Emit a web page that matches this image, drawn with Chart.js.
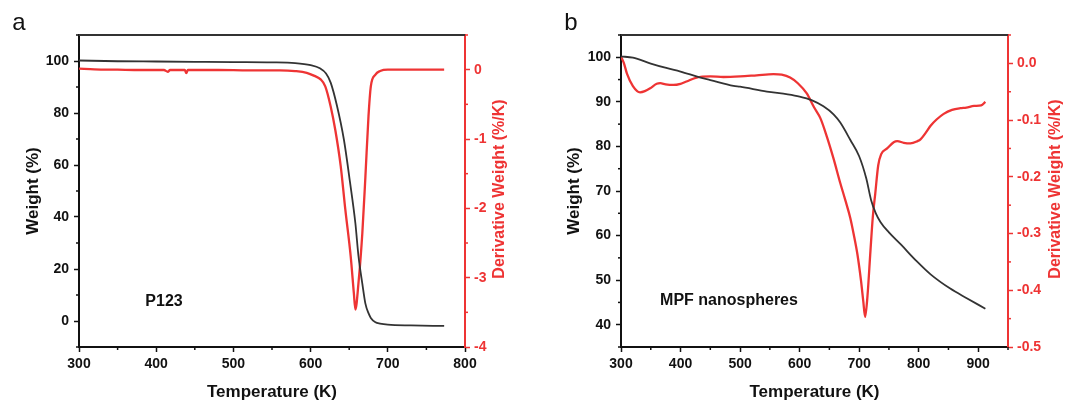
<!DOCTYPE html>
<html>
<head>
<meta charset="utf-8">
<script src="https://cdn.jsdelivr.net/npm/chart.js@4.4.1/dist/chart.umd.min.js"></script>
<style>
  html, body { margin: 0; padding: 0; background: #fff; }
  #wrap { position: relative; width: 1067px; height: 406px; }
  canvas { position: absolute; top: 0; }
  #chartA { left: 0; }
  #chartB { left: 533px; }
</style>
</head>
<body>
<div id="wrap">
  <canvas id="chartA" width="533" height="406"></canvas>
  <canvas id="chartB" width="534" height="406"></canvas>
</div>
<script>
// panel a - P123
const tempWeightA = [300, 350, 400, 450, 500, 550, 580, 600, 612, 620, 626, 634, 643, 651, 658, 662, 667, 671, 675, 678, 684, 690, 700, 730, 773];
const weightA = [100.2, 99.9, 99.8, 99.7, 99.6, 99.5, 99.2, 98.4, 97.2, 95.2, 91.7, 83.0, 70.0, 53.5, 37.6, 25.0, 14.4, 6.7, 3.0, 1.2, -0.5, -1.0, -1.4, -1.7, -1.9];
const tempDerivA = [300, 320, 350, 380, 410, 415, 418, 437, 439, 441, 480, 520, 560, 580, 595, 605, 613, 619, 626, 632, 639, 645, 652, 656, 658, 662, 667, 671, 675, 678, 684, 690, 700, 773];
const derivA = [0.015, 0.005, 0.0, -0.005, -0.005, -0.03, -0.005, -0.005, -0.05, -0.005, -0.005, -0.01, -0.01, -0.02, -0.045, -0.09, -0.14, -0.24, -0.53, -0.87, -1.39, -2.02, -2.70, -3.22, -3.46, -3.08, -2.36, -1.54, -0.67, -0.24, -0.07, -0.02, 0.0, 0.0];
const tempTicksA = [300, 400, 500, 600, 700, 800];
const weightTicksA = [0, 20, 40, 60, 80, 100];
const derivTicksA = [-4, -3, -2, -1, 0];

// panel b - MPF nanospheres
const tempWeightB = [300, 320, 350, 376, 400, 432, 450, 489, 500, 545, 580, 600, 620, 640, 657, 668, 685, 700, 712, 720, 728, 736, 750, 770, 797, 820, 853, 880, 912];
const weightB = [100.2, 99.9, 98.6, 97.6, 96.8, 95.5, 94.9, 93.6, 93.4, 92.3, 91.7, 91.2, 90.4, 89.0, 87.2, 85.4, 81.5, 77.8, 72.8, 68.0, 65.0, 63.0, 60.7, 58.0, 54.2, 51.3, 48.1, 46.0, 43.6];
const tempDerivB = [300, 305, 310, 320, 332, 340, 349, 360, 366, 375, 388, 400, 410, 427, 450, 472, 500, 528, 556, 570, 584, 597, 612, 624, 635, 646, 657, 668, 677, 685, 691, 697, 703, 707, 710, 714, 719, 723, 727, 732, 737, 747, 758, 764, 775, 786, 798, 803, 812, 820, 830, 842, 856, 870, 880, 893, 905, 912];
const derivB = [0.012, 0.0, -0.018, -0.040, -0.051, -0.049, -0.044, -0.036, -0.035, -0.037, -0.038, -0.036, -0.032, -0.025, -0.023, -0.024, -0.023, -0.021, -0.019, -0.020, -0.025, -0.035, -0.053, -0.077, -0.097, -0.13, -0.168, -0.21, -0.242, -0.272, -0.302, -0.336, -0.382, -0.42, -0.447, -0.41, -0.33, -0.27, -0.23, -0.18, -0.16, -0.150, -0.139, -0.137, -0.140, -0.141, -0.137, -0.134, -0.122, -0.110, -0.099, -0.089, -0.082, -0.079, -0.078, -0.075, -0.074, -0.068];
const tempTicksB = [300, 400, 500, 600, 700, 800, 900];
const weightTicksB = [40, 50, 60, 70, 80, 90, 100];
const derivTicksB = [-0.5, -0.4, -0.3, -0.2, -0.1, 0.0];

const BLACK = '#333333';
const RED = '#ee3434';
const TEXT = '#111111';

Chart.defaults.font.family = '"Liberation Sans", Arial, sans-serif';

function pairs(xs, ys) {
    return xs.map((x, i) => ({ x: x, y: ys[i] }));
}

function useTicks(values) {
    return function (scale) {
        scale.ticks = values.map(v => ({ value: v }));
    };
}

// draws minor ticks, top frame, rotated right title and text labels
const decor = {
    id: 'decor',
    afterDraw(chart, args, opts) {
        const ctx = chart.ctx;
        const area = chart.chartArea;
        ctx.save();

        ctx.strokeStyle = BLACK;
        ctx.lineWidth = 2;
        ctx.beginPath();
        ctx.moveTo(area.left - 1, area.top);
        ctx.lineTo(area.right, area.top);
        ctx.stroke();

        opts.minor.forEach(m => {
            const scale = chart.scales[m.id];
            ctx.strokeStyle = m.color;
            ctx.lineWidth = 1.5;
            for (let k = Math.ceil(scale.min / m.step - 1e-6); k <= Math.floor(scale.max / m.step + 1e-6); k++) {
                const v = k * m.step;
                if (Math.abs(v / m.major - Math.round(v / m.major)) < 1e-6) continue;
                const p = scale.getPixelForValue(v);
                ctx.beginPath();
                if (m.id === 'x') {
                    ctx.moveTo(p, area.bottom);
                    ctx.lineTo(p, area.bottom + 3);
                } else if (m.id === 'y') {
                    ctx.moveTo(area.left, p);
                    ctx.lineTo(area.left - 3, p);
                } else {
                    ctx.moveTo(area.right, p);
                    ctx.lineTo(area.right + 3, p);
                }
                ctx.stroke();
            }
        });

        const rt = opts.rightTitle;
        ctx.translate(rt.x, rt.y);
        ctx.rotate(-Math.PI / 2);
        ctx.fillStyle = RED;
        ctx.font = 'bold 16px "Liberation Sans", Arial, sans-serif';
        ctx.textAlign = 'center';
        ctx.textBaseline = 'middle';
        ctx.fillText(rt.text, 0, 0);
        ctx.setTransform(1, 0, 0, 1, 0, 0);

        opts.labels.forEach(l => {
            ctx.font = l.font;
            ctx.fillStyle = TEXT;
            ctx.textAlign = 'center';
            ctx.textBaseline = 'middle';
            ctx.fillText(l.text, l.x, l.y);
        });
        ctx.restore();
    }
};

function makePanel(id, s) {
    const ctx = document.getElementById(id).getContext('2d');
    return new Chart(ctx, {
        type: 'line',
        data: {
            datasets: [{
                label: 'Weight',
                data: pairs(s.tw, s.w),
                yAxisID: 'y',
                borderColor: BLACK,
                borderWidth: 1.8,
                pointRadius: 0,
                cubicInterpolationMode: 'monotone'
            }, {
                label: 'Derivative Weight',
                data: pairs(s.td, s.d),
                yAxisID: 'y2',
                borderColor: RED,
                borderWidth: 2.3,
                pointRadius: 0,
                cubicInterpolationMode: 'monotone'
            }]
        },
        options: {
            responsive: false,
            animation: false,
            devicePixelRatio: 1,
            layout: { padding: { top: 35, left: 0, right: 0, bottom: 0 } },
            scales: {
                x: {
                    type: 'linear',
                    min: 300,
                    max: s.xMax,
                    ticks: { color: TEXT, font: { size: 14, weight: 'bold' }, padding: 4, maxRotation: 0, autoSkip: false, callback: v => String(v) },
                    grid: { drawOnChartArea: false, tickLength: 5, tickColor: TEXT, tickWidth: 1.5 },
                    border: { color: TEXT, width: 2 },
                    title: { display: true, text: 'Temperature (K)', color: TEXT, font: { size: 17, weight: 'bold' }, padding: { top: 0, bottom: 3 } },
                    afterBuildTicks: useTicks(s.xTicks),
                    afterFit: scale => { scale.height = 59; }
                },
                y: {
                    type: 'linear',
                    position: 'left',
                    min: s.yMin,
                    max: s.yMax,
                    ticks: { color: TEXT, font: { size: 14, weight: 'bold' }, padding: 5, autoSkip: false, callback: v => String(v) },
                    grid: { drawOnChartArea: false, tickLength: 5, tickColor: TEXT, tickWidth: 1.5 },
                    border: { color: TEXT, width: 2 },
                    title: { display: true, text: 'Weight (%)', color: TEXT, font: { size: 17, weight: 'bold' }, padding: { top: s.leftTitlePad, bottom: 0 } },
                    afterBuildTicks: useTicks(s.yTicks),
                    afterFit: scale => { scale.width = s.leftW; }
                },
                y2: {
                    type: 'linear',
                    position: 'right',
                    min: s.dMin,
                    max: s.dMax,
                    ticks: { color: RED, font: { size: 14, weight: 'bold' }, padding: 4, autoSkip: false, callback: s.dFormat },
                    grid: { drawOnChartArea: false, tickLength: 5, tickColor: RED, tickWidth: 1.5 },
                    border: { color: RED, width: 2 },
                    afterBuildTicks: useTicks(s.dTicks),
                    afterFit: scale => { scale.width = s.rightW; }
                }
            },
            plugins: {
                legend: { display: false },
                tooltip: { enabled: false },
                decor: {
                    minor: [
                        { id: 'x', step: 50, major: 100, color: TEXT },
                        { id: 'y', step: s.yStep / 2, major: s.yStep, color: TEXT },
                        { id: 'y2', step: s.dStep / 2, major: s.dStep, color: RED }
                    ],
                    rightTitle: { x: s.rightTitleX, y: 189, text: 'Derivative Weight (%/K)' },
                    labels: s.labels
                }
            }
        },
        plugins: [decor]
    });
}

makePanel('chartA', {
    tw: tempWeightA, w: weightA, td: tempDerivA, d: derivA,
    xTicks: tempTicksA, yTicks: weightTicksA, dTicks: derivTicksA,
    xMax: 800, yMin: -10, yMax: 110, yStep: 20,
    dMin: -4, dMax: 0.5, dStep: 1, dFormat: v => String(v),
    leftW: 79, rightW: 68, leftTitlePad: 23, rightTitleX: 500,
    labels: [
        { text: 'a', x: 19, y: 23, font: '24px "Liberation Sans", Arial, sans-serif' },
        { text: 'P123', x: 164, y: 302, font: 'bold 16px "Liberation Sans", Arial, sans-serif' }
    ]
});

makePanel('chartB', {
    tw: tempWeightB, w: weightB, td: tempDerivB, d: derivB,
    xTicks: tempTicksB, yTicks: weightTicksB, dTicks: derivTicksB,
    xMax: 950, yMin: 35, yMax: 105, yStep: 10,
    dMin: -0.5, dMax: 0.05, dStep: 0.1, dFormat: v => v.toFixed(1),
    leftW: 88, rightW: 59, leftTitlePad: 31, rightTitleX: 523,
    labels: [
        { text: 'b', x: 38, y: 23, font: '24px "Liberation Sans", Arial, sans-serif' },
        { text: 'MPF nanospheres', x: 196, y: 301, font: 'bold 16px "Liberation Sans", Arial, sans-serif' }
    ]
});
</script>
</body>
</html>
